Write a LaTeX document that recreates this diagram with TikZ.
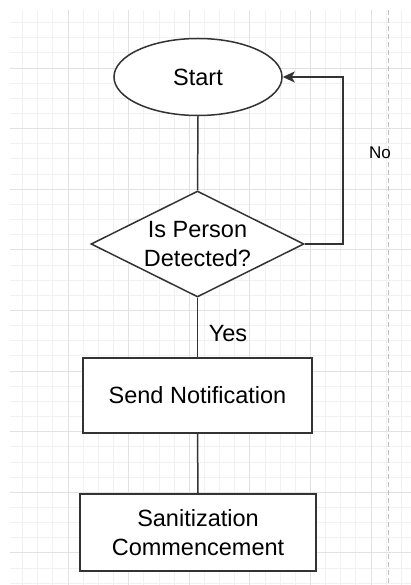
\documentclass[tikz,border=0pt]{standalone}
\usepackage{fontspec}
\setmainfont{Liberation Sans}
\usetikzlibrary{shapes.geometric,arrows.meta}

\definecolor{gridminor}{HTML}{F1F1F1}
\definecolor{gridmajor}{HTML}{E2E2E2}
\definecolor{stroke}{HTML}{333333}

\begin{document}
\begin{tikzpicture}[x=1pt, y=-1pt,
	every node/.style={font=\fontsize{23.5}{29}\selectfont, align=center, text=black},
	flowline/.style={draw=stroke, line width=1.5pt},
	shapebox/.style={draw=stroke, line width=1.5pt, fill=white, inner sep=0pt}]
	\useasboundingbox (0,0) rectangle (411,585);
	% background grid
	\begin{scope}
		\clip (10,10) rectangle (411,585);
		\foreach \i in {0,...,27}
			\draw[gridminor, line width=.8pt] ({7.4+15.15*\i},10) -- ({7.4+15.15*\i},585);
		\foreach \i in {0,...,38}
			\draw[gridminor, line width=.8pt] (10,{7.4+15.15*\i}) -- (411,{7.4+15.15*\i});
		\foreach \i in {0,...,7}
			\draw[gridmajor, line width=.8pt] ({7.4+60.6*\i},10) -- ({7.4+60.6*\i},585);
		\foreach \i in {0,...,10}
			\draw[gridmajor, line width=.8pt] (10,{7.4+60.6*\i}) -- (411,{7.4+60.6*\i});
	\end{scope}
	\draw[black!25, line width=1pt, dash pattern=on 5pt off 3pt] (388,10) -- (388,585);

	\node[shapebox, ellipse, minimum width=168, minimum height=77] (start) at (198, 77) {Start};
	\node[shapebox, diamond, aspect=2, minimum width=213, minimum height=106] (detect) at (197.5, 244) {Is Person\\Detected?};
	\node[shapebox, rectangle, minimum width=229, minimum height=75] (notify) at (197.5, 395.5) {Send Notification};
	\node[shapebox, rectangle, minimum width=236, minimum height=77] (sanit) at (198, 532.5) {Sanitization\\Commencement};
	\node (yes) at (228, 334) {Yes};
	\node[font=\fontsize{17}{20}\selectfont] (no) at (380, 153) {No};
	\coordinate (loop) at (343, 77);

	\draw[flowline] (start.south) -- (detect.north);
	\draw[flowline] (detect.south) -- (notify.north);
	\draw[flowline] (notify.south) -- (sanit.north);
	\draw[flowline, -{Stealth[length=12pt, width=11pt, inset=3pt]}] (detect.east) -| (loop) -- (start.east);
\end{tikzpicture}
\end{document}
